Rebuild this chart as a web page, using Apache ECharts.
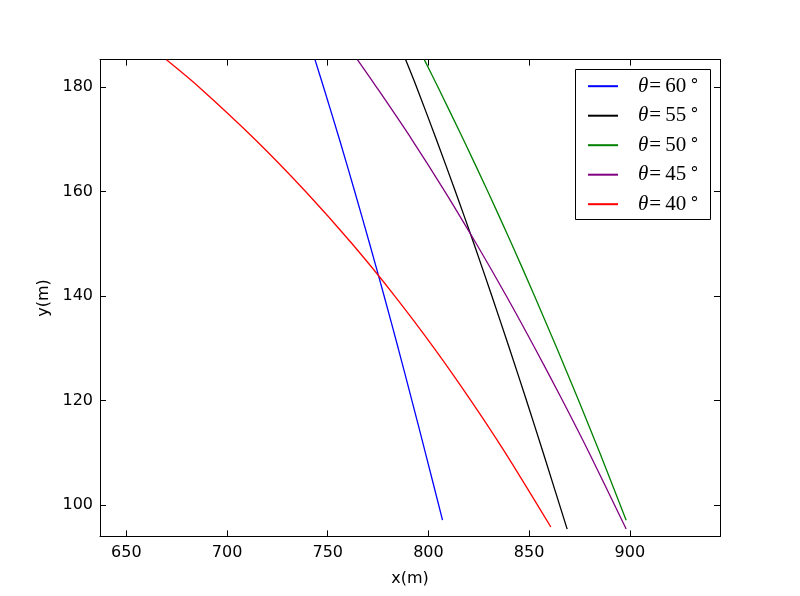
<!DOCTYPE html>
<html>
<head>
<meta charset="utf-8">
<script src="https://cdn.jsdelivr.net/npm/echarts@6/dist/echarts.min.js"></script>
<style>html,body{margin:0;padding:0;background:#fff}#c{width:800px;height:596px}</style>
</head>
<body>
<div id="c"></div>
<script>
// ---- data ----
const angles = ['60', '55', '50', '45', '40'];
const colors = ['#0000ff', '#000000', '#008000', '#800080', '#ff0000'];

const x60 = [743.7, 747.9, 755.8, 763.4, 770.8, 778.0, 785.0, 791.8, 798.5, 807.0];
const y60 = [185.2, 180, 170, 160, 150, 140, 130, 120, 110, 97.1];

const x55 = [788.7, 794.1, 803.9, 813.4, 822.6, 831.5, 840.2, 848.7, 857.0, 868.9];
const y55 = [185.2, 180, 170, 160, 150, 140, 130, 120, 110, 95.4];

const x50 = [798.0, 804.7, 817.3, 829.5, 841.3, 852.7, 863.8, 874.6, 885.1, 898.2];
const y50 = [185.2, 180, 170, 160, 150, 140, 130, 120, 110, 97.1];

const x45 = [764.8, 774.2, 791.7, 808.2, 823.8, 838.7, 852.9, 866.6, 879.8, 898.2];
const y45 = [185.2, 180, 170, 160, 150, 140, 130, 120, 110, 95.4];

const x40 = [669.9, 686.0, 713.8, 739.0, 762.1, 783.3, 802.9, 821.1, 838.2, 860.8];
const y40 = [185.2, 180, 170, 160, 150, 140, 130, 120, 110, 95.8];

const xs = [x60, x55, x50, x45, x40];
const ys = [y60, y55, y50, y45, y40];

const xMin = 636.9, xMax = 944.8;
const yMin = 94.0, yMax = 185.25;
const xTitle = 'x(m)', yTitle = 'y(m)';

// ---- chart ----
const chart = echarts.init(document.getElementById('c'), null, {renderer: 'canvas'});
const font = 'DejaVu Sans';
const names = angles.map(a => 'theta' + a);

function axisCommon(extra) {
  return Object.assign({
    type: 'value',
    splitNumber: 5,
    axisLine: {show: true, onZero: false, lineStyle: {color: '#000', width: 1}},
    axisTick: {show: true, inside: true, length: 6, lineStyle: {color: '#000', width: 1}},
    splitLine: {show: false},
  }, extra);
}
const fmt = v => (Math.abs(v % 10) < 1e-6 ? String(v) : '');

const series = angles.map((a, i) => ({
  name: names[i],
  type: 'line',
  xAxisIndex: 0, yAxisIndex: 0,
  data: xs[i].map((x, k) => [x, ys[i][k]]),
  showSymbol: false,
  symbol: 'none',
  smooth: 0.3,
  clip: true,
  lineStyle: {color: colors[i], width: 1.3},
  itemStyle: {color: colors[i]},
  z: 2
}));

const serif = 'Liberation Serif';
chart.setOption({
  animation: false,
  backgroundColor: '#fff',
  grid: {left: 100, top: 59.6, width: 620, height: 476.8, containLabel: false},
  xAxis: [
    axisCommon({position: 'bottom', min: xMin, max: xMax, name: xTitle, nameLocation: 'middle', nameGap: 34,
      nameTextStyle: {fontFamily: font, fontSize: 16, color: '#000'},
      axisLabel: {show: true, margin: 8, fontFamily: font, fontSize: 16, color: '#000', formatter: fmt}}),
    axisCommon({position: 'top', min: xMin, max: xMax, axisLabel: {show: false}})
  ],
  yAxis: [
    axisCommon({position: 'left', min: yMin, max: yMax, name: yTitle, nameLocation: 'middle', nameGap: 47,
      nameTextStyle: {fontFamily: font, fontSize: 16, color: '#000'},
      axisLabel: {show: true, margin: 7, fontFamily: font, fontSize: 16, color: '#000', formatter: fmt}}),
    axisCommon({position: 'right', min: yMin, max: yMax, axisLabel: {show: false}})
  ],
  graphic: [{
    type: 'rect', z: 3,
    shape: {x: 575.5, y: 69.5, width: 135, height: 150},
    style: {fill: '#fff', stroke: '#000', lineWidth: 1}
  }],
  legend: {
    z: 5,
    orient: 'vertical',
    left: 588, top: 75.7,
    padding: 0,
    itemGap: 8.5,
    itemWidth: 30, itemHeight: 2,
    icon: 'rect',
    data: names,
    formatter: name => {
      const a = angles[names.indexOf(name)];
      return '{t|θ}{e|=}{n|' + a + '}{d|°}';
    },
    textStyle: {
      color: '#000',
      lineHeight: 20,
      rich: {
        t: {fontFamily: serif, fontStyle: 'italic', fontSize: 21, lineHeight: 20, color: '#000', padding: [0, 0, 0, 15]},
        e: {fontFamily: serif, fontSize: 21, lineHeight: 20, color: '#000', padding: [0, 4, 0, 1]},
        n: {fontFamily: serif, fontSize: 21, lineHeight: 20, color: '#000'},
        d: {fontFamily: 'DejaVu Sans', fontSize: 17, lineHeight: 20, color: '#000', padding: [0, 0, 0, 4]}
      }
    }
  },
  series: series
});
</script>
</body>
</html>
